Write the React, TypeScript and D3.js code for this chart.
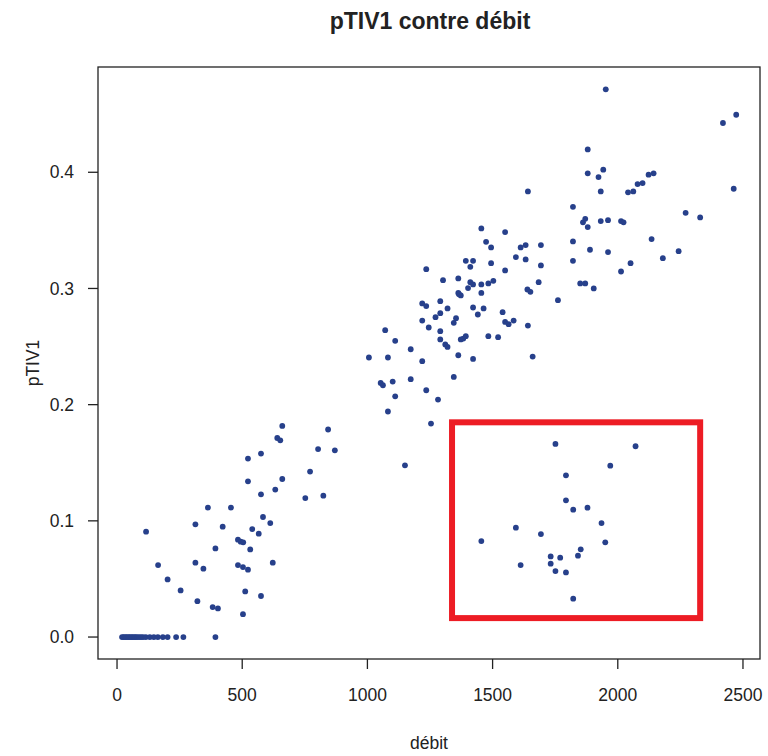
import React from "react";
import * as d3 from "d3";

const zeroDebit = [20, 26, 32, 38, 44, 50, 56, 62, 68, 74, 80, 88, 96, 104, 115, 131, 147, 163, 183, 202, 236, 265, 393];

const debit = [
  116, 164, 202, 254, 321, 313, 313, 345, 363, 455, 422, 393, 382, 403, 503, 512, 483, 503, 523, 483, 494, 504, 532, 540, 566, 583, 612, 575, 622, 523, 523, 575, 575, 632, 660, 660, 640, 652, 752, 771, 824, 803, 843, 870,
  1455, 1550, 1474, 1494, 1612, 1632, 1693, 1593, 1632, 1693, 1393, 1422, 1411, 1494, 1235, 1550, 1302, 1363, 1411, 1422, 1402, 1455, 1483, 1503, 1455, 1684, 1639, 1651, 1363, 1373, 1366, 1761, 1219, 1235, 1291, 1320, 1291, 1272, 1219, 1245, 1354, 1345, 1422, 1464, 1441, 1540, 1550, 1564, 1584, 1641, 1291, 1291, 1311, 1320, 1373, 1383, 1393, 1483, 1522, 1071, 1111, 1173, 1006, 1082, 1219, 1363, 1422, 1660, 1053, 1062, 1101, 1173, 1111, 1235, 1345, 1282, 1082, 1254, 1150, 1641,
  1952, 2420, 2473, 2463, 1880, 1880, 1942, 1923, 1932, 2041, 2062, 2079, 2099, 2123, 2143, 1821, 1870, 1861, 1880, 1932, 1961, 2013, 2023, 2271, 2329, 2135, 1821, 1821, 1889, 1961, 2051, 2013, 2180, 2243, 1850, 1870, 1904,
  1751, 2071, 1970, 1793, 1793, 1822, 1879, 1935, 1593, 1693, 1455, 1950, 1852, 1841, 1732, 1770, 1732, 1612, 1751, 1793, 1822,
];

const ptiv1 = [
  0.0907, 0.0619, 0.0496, 0.0401, 0.0309, 0.097, 0.064, 0.0588, 0.1114, 0.1114, 0.095, 0.0763, 0.0258, 0.0246, 0.0197, 0.0393, 0.0619, 0.0602, 0.058, 0.0838, 0.0821, 0.0815, 0.0754, 0.0929, 0.089, 0.1033, 0.0981, 0.0353, 0.064, 0.134, 0.1536, 0.1579, 0.1228, 0.1269, 0.136, 0.1817, 0.1713, 0.1693, 0.1196, 0.1424, 0.1217, 0.1618, 0.1786, 0.1607,
  0.3517, 0.3485, 0.3401, 0.3353, 0.3353, 0.3373, 0.3373, 0.327, 0.325, 0.3198, 0.3238, 0.3238, 0.3186, 0.3218, 0.3166, 0.3155, 0.3071, 0.3086, 0.3054, 0.3035, 0.3003, 0.3035, 0.3043, 0.3066, 0.2962, 0.3054, 0.2991, 0.2971, 0.2962, 0.294, 0.295, 0.2899, 0.2871, 0.2848, 0.2891, 0.2828, 0.2787, 0.2753, 0.2724, 0.2664, 0.2744, 0.2704, 0.2836, 0.2828, 0.2776, 0.2796, 0.2712, 0.2693, 0.2724, 0.2681, 0.2632, 0.2561, 0.2518, 0.2497, 0.2561, 0.2569, 0.2589, 0.2589, 0.2581, 0.2641, 0.2549, 0.2477, 0.2406, 0.2406, 0.2374, 0.2425, 0.2394, 0.2414, 0.2187, 0.2167, 0.2199, 0.2219, 0.2072, 0.2124, 0.2239, 0.2044, 0.1941, 0.1837, 0.1478, 0.3835,
  0.4714, 0.4424, 0.4495, 0.3858, 0.4197, 0.3991, 0.4022, 0.3959, 0.3835, 0.3827, 0.3835, 0.3898, 0.3907, 0.3979, 0.3991, 0.3703, 0.3599, 0.3569, 0.3528, 0.358, 0.3588, 0.358, 0.3569, 0.3651, 0.3611, 0.3425, 0.3405, 0.3238, 0.3333, 0.3313, 0.3218, 0.3146, 0.3261, 0.3321, 0.3043, 0.3043, 0.3,
  0.1662, 0.1642, 0.1475, 0.1392, 0.1177, 0.1096, 0.1113, 0.0981, 0.0941, 0.0886, 0.0826, 0.0815, 0.0755, 0.07, 0.0694, 0.0683, 0.0631, 0.0619, 0.0568, 0.0556, 0.033,
];

const xTicks = [0, 500, 1000, 1500, 2000, 2500];
const yTicks = [0.0, 0.1, 0.2, 0.3, 0.4];
const xDomain = [-76, 2568];
const yDomain = [-0.0189, 0.4906];
const highlightX = [1338, 2329];
const highlightY = [0.0163, 0.1848];

const FONT = "'Liberation Sans', Arial, sans-serif";

export default function App() {
  const W = 768, H = 756;
  const left = 98, right = 760, top = 67, bottom = 659;
  const x = d3.scaleLinear().domain(xDomain).range([left, right]);
  const y = d3.scaleLinear().domain(yDomain).range([bottom, top]);

  const points = [
    ...zeroDebit.map((d) => ({ d, p: 0 })),
    ...debit.map((d, i) => ({ d, p: ptiv1[i] })),
  ];

  const fg = "#222";
  return (
    <svg width={W} height={H} style={{ position: "absolute", left: 0, top: 0, background: "#fff" }} fontFamily={FONT}>
      <rect x={0} y={0} width={W} height={H} fill="#fff" />
      <text x={(left + right) / 2 + 1} y={29} textAnchor="middle" fontWeight="bold" fontSize={23} fill={fg}>
        pTIV1 contre débit
      </text>
      <rect x={left} y={top} width={right - left} height={bottom - top} fill="none" stroke={fg} strokeWidth={1.3} />
      {xTicks.map((t) => (
        <g key={"x" + t}>
          <line x1={x(t)} x2={x(t)} y1={bottom} y2={bottom + 10} stroke={fg} strokeWidth={1.3} />
          <text x={x(t)} y={701} textAnchor="middle" fontSize={17.5} fill={fg}>{t}</text>
        </g>
      ))}
      {yTicks.map((t) => (
        <g key={"y" + t}>
          <line x1={left - 10} x2={left} y1={y(t)} y2={y(t)} stroke={fg} strokeWidth={1.3} />
          <text x={74} y={y(t)} dy="0.35em" textAnchor="end" fontSize={17.5} fill={fg}>{t.toFixed(1)}</text>
        </g>
      ))}
      <text x={(left + right) / 2} y={749} textAnchor="middle" fontSize={17.5} fill={fg}>débit</text>
      <text transform={`translate(39,${(top + bottom) / 2}) rotate(-90)`} textAnchor="middle" fontSize={17.5} fill={fg}>pTIV1</text>
      {points.map((pt, i) => (
        <circle key={i} cx={x(pt.d)} cy={y(pt.p)} r={2.9} fill="#27408B" />
      ))}
      <rect
        x={x(highlightX[0])}
        y={y(highlightY[1])}
        width={x(highlightX[1]) - x(highlightX[0])}
        height={y(highlightY[0]) - y(highlightY[1])}
        fill="none"
        stroke="#ED1C24"
        strokeWidth={6}
      />
    </svg>
  );
}
